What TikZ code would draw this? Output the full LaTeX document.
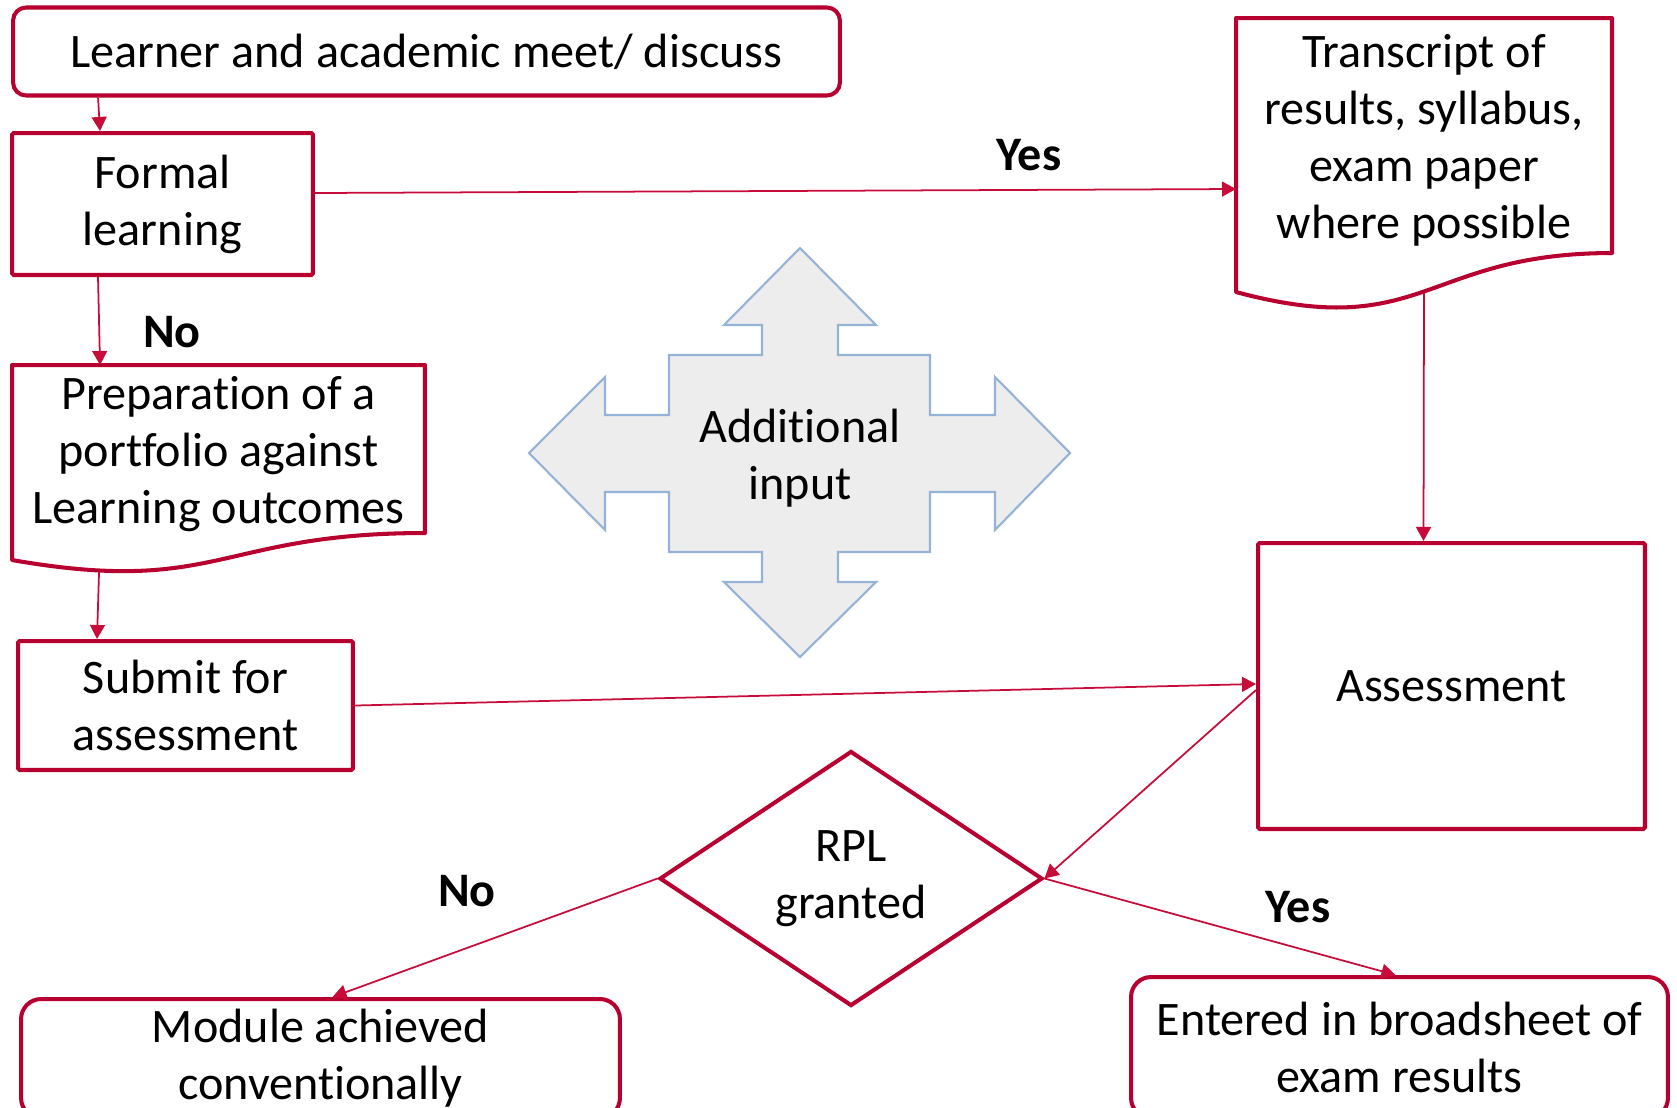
\documentclass[tikz,border=0pt]{standalone}
\usepackage{fontspec}
\setmainfont{Carlito}[Ligatures=NoCommon]
\usetikzlibrary{arrows.meta,shapes.geometric,calc}
\definecolor{rpl}{RGB}{183,0,47}
\definecolor{rplline}{RGB}{200,12,58}
\definecolor{crossfill}{RGB}{237,237,237}
\definecolor{crossline}{RGB}{149,179,215}
\begin{document}
\begin{tikzpicture}[x=0.02cm,y=-0.02cm,
  txtfont/.style={font=\fontsize{27.4pt}{32.4pt}\selectfont},
  box/.style={draw=rpl,line width=2.3pt,fill=white,align=center,inner sep=0pt,txtfont},
  docarea/.style={inner sep=0pt,outer sep=0pt},
  doctxt/.style={align=center,inner sep=0pt,txtfont},
  docline/.style={draw=rpl,line width=2.3pt,line join=round,fill=white},
  conn/.style={draw=rplline,line width=1pt,-{Triangle[length=8pt,width=8.5pt]}},
  lbl/.style={font=\fontsize{27.4pt}{32.4pt}\selectfont\bfseries,inner sep=0pt},
  cross/.style={draw=crossline,fill=crossfill,line width=1.2pt,line join=miter}]
\useasboundingbox (0,0) rectangle (1677,1107);

% cross-shaped "Additional input"
\draw[cross] (800,248) -- (876,325) -- (838,325) -- (838,355) -- (930,355) -- (930,415)
  -- (995,415) -- (995,377) -- (1070,453) -- (995,530) -- (995,492) -- (930,492)
  -- (930,552) -- (838,552) -- (838,582) -- (876,582) -- (800,657) -- (724,582)
  -- (762,582) -- (762,552) -- (669,552) -- (669,492) -- (605,492) -- (605,530)
  -- (529,453) -- (605,377) -- (605,415) -- (669,415) -- (669,355) -- (762,355)
  -- (762,325) -- (724,325) -- cycle;
\node[doctxt] (addin) at (800,458) {Additional\\input};

% boxes
\node[box,rounded corners=0.26cm,minimum width=16.54cm,minimum height=1.76cm] (learn) at (426.5,51.5) {Learner and academic meet/ discuss};
\node[box,rounded corners=1pt,minimum width=6.02cm,minimum height=2.84cm] (formal) at (162.5,204) {Formal\\learning};
\node[box,rounded corners=1pt,minimum width=6.7cm,minimum height=2.58cm] (submit) at (185.5,705.5) {Submit for\\assessment};
\node[box,rounded corners=1pt,minimum width=7.74cm,minimum height=5.72cm] (assess) at (1451.5,686) {Assessment};
\node[box,diamond,minimum width=7.66cm,minimum height=5.1cm] (rpl) at (851,878.5) {RPL\\granted};
\node[box,rounded corners=0.4cm,minimum width=11.98cm,minimum height=2.38cm] (module) at (320.5,1058.5) {Module achieved\\conventionally};
\node[box,rounded corners=0.4cm,minimum width=10.74cm,minimum height=2.82cm] (entered) at (1399.5,1047.5) {Entered in broadsheet of\\exam results};

% document shapes
\node[docarea,minimum width=7.52cm,minimum height=5.48cm] (transdoc) at (1424,155) {};
\draw[docline] (transdoc.north west) -- (transdoc.north east) -- ($(transdoc.north east)+(0,235)$)
  .. controls ($(transdoc.north)+(0,235)$) and ($(transdoc.north)+(0,324.5)$) .. ($(transdoc.north west)+(0,274)$) -- cycle;
\node[doctxt] (trans) at (1424,140) {Transcript of\\results, syllabus,\\exam paper\\where possible};

\node[docarea,minimum width=8.26cm,minimum height=3.9cm] (prepdoc) at (218.5,462.5) {};
\draw[docline] (prepdoc.north west) -- (prepdoc.north east) -- ($(prepdoc.north east)+(0,168)$)
  .. controls ($(prepdoc.north)+(0,168)$) and ($(prepdoc.north)+(0,231)$) .. ($(prepdoc.north west)+(0,195)$) -- cycle;
\node[doctxt] (prep) at (218.5,454) {Preparation of a\\portfolio against\\Learning outcomes};

% connectors
\draw[conn] ($(learn.south west)+(87,0)$) -- ($(formal.north west)+(90,0)$);
\draw[conn] ($(formal.east)+(0,-11)$) -- ($(transdoc.west)+(0,34)$);
\draw[conn] ($(formal.south west)+(88,0)$) -- ($(prepdoc.north west)+(88,0)$);
\draw[conn] ($(prepdoc.north west)+(87,207)$) -- ($(submit.north west)+(81,0)$);
\draw[conn] ($(transdoc.north)+(0,275)$) -- ($(assess.north)+(-28,0)$);
\draw[conn] (submit.east) -- ($(assess.west)+(0,-2)$);
\draw[conn] ($(assess.west)+(0,4)$) -- (rpl.east);
\draw[conn] (rpl.west) -- ($(module.north)+(12,0)$);
\draw[conn] (rpl.east) -- ($(entered.north)+(-4,0)$);

% labels
\node[lbl] (yes1) at (1029,155) {Yes};
\node[lbl] (no1) at (172,332) {No};
\node[lbl] (no2) at (467,891) {No};
\node[lbl] (yes2) at (1298,907) {Yes};
\end{tikzpicture}
\end{document}
